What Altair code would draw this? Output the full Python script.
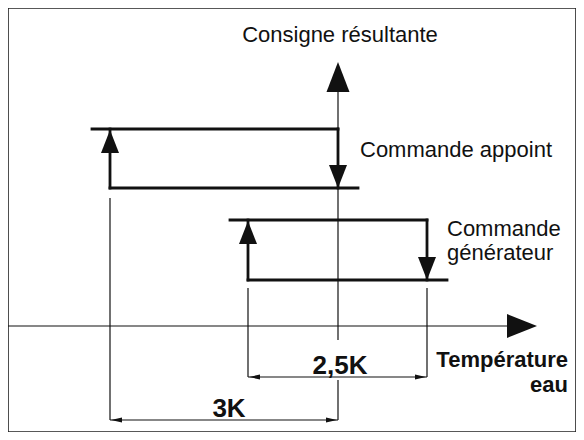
import altair as alt
import pandas as pd

# ---- diagram data (reference pixel units) ----
# thin lines: axes, extension lines, dimension lines
thin_x1 = [8, 338, 338, 110, 248, 427, 248, 110]
thin_x2 = [510, 338, 338, 110, 248, 427, 427, 338]
thin_y1 = [326, 90, 380, 198, 288, 288, 377, 420]
thin_y2 = [326, 340, 420, 420, 377, 377, 377, 420]

# thick hysteresis loops: appoint (4 segments) then générateur (4 segments)
loop_x1 = [92, 338, 110, 110, 230, 427, 248, 248]
loop_x2 = [338, 338, 358, 110, 427, 427, 447, 248]
loop_y1 = [129, 129, 188, 129, 220, 220, 280, 220]
loop_y2 = [129, 188, 188, 188, 220, 280, 280, 280]

# vertical arrowheads (centre x, tip y, base y, half width)
varrow_x = [338, 110, 338, 248, 427]
varrow_tip = [62, 130, 188, 221, 280]
varrow_base = [92, 153, 165, 244, 257]
varrow_half = [11.5, 9, 9, 9, 9]

# horizontal arrowheads (centre y, tip x, base x, half height)
harrow_y = [326, 377, 377, 420, 420]
harrow_tip = [537, 249, 426, 111, 337]
harrow_base = [507, 260, 415, 122, 326]
harrow_half = [12, 2.5, 2.5, 2.5, 2.5]

# labels
reg_left_text = ["Commande appoint", "Commande", "générateur"]
reg_left_x = [360, 447, 447]
reg_left_y = [157, 236, 260]

reg_center_text = ["Consigne résultante"]
reg_center_x = [340]
reg_center_y = [42]

bold_right_text = ["Température", "eau"]
bold_right_x = [568, 568]
bold_right_y = [367, 392]

bold_center_text = ["2,5K", "3K"]
bold_center_x = [340, 229]
bold_center_y = [374, 417]

FONT = "Liberation Sans"
INK = "#111111"

xs = alt.Scale(domain=[8, 576])
ys = alt.Scale(domain=[8, 432], reverse=True)

thin_df = pd.DataFrame({"x": thin_x1, "x2": thin_x2, "y": thin_y1, "y2": thin_y2})
loop_df = pd.DataFrame({"x": loop_x1, "x2": loop_x2, "y": loop_y1, "y2": loop_y2})

# arrowheads as custom symbol paths (path spans [-1, 1] -> sqrt(size) px)
rows = []
for cx, tip, base, hw in zip(varrow_x, varrow_tip, varrow_base, varrow_half):
    L = abs(base - tip)
    a = hw / (L / 2)
    if tip < base:  # pointing up
        path = f"M0,-1L{a:.4f},1L{-a:.4f},1Z"
    else:
        path = f"M0,1L{a:.4f},-1L{-a:.4f},-1Z"
    rows.append({"x": cx, "y": (tip + base) / 2, "shape": path, "size": L * L})
for cy, tip, base, hh in zip(harrow_y, harrow_tip, harrow_base, harrow_half):
    L = abs(base - tip)
    a = hh / (L / 2)
    if tip > base:  # pointing right
        path = f"M1,0L-1,{a:.4f}L-1,{-a:.4f}Z"
    else:
        path = f"M-1,0L1,{a:.4f}L1,{-a:.4f}Z"
    rows.append({"x": (tip + base) / 2, "y": cy, "shape": path, "size": L * L})
arrow_df = pd.DataFrame(rows)

thin = alt.Chart(thin_df).mark_rule(color=INK, strokeWidth=1.2).encode(
    x=alt.X("x:Q", scale=xs, axis=None), x2="x2:Q",
    y=alt.Y("y:Q", scale=ys, axis=None), y2="y2:Q",
)

loops = alt.Chart(loop_df).mark_rule(color=INK, strokeWidth=2.8, strokeCap="square").encode(
    x=alt.X("x:Q", scale=xs, axis=None), x2="x2:Q",
    y=alt.Y("y:Q", scale=ys, axis=None), y2="y2:Q",
)

arrows = alt.Chart(arrow_df).mark_point(filled=True, color=INK, opacity=1, strokeWidth=0).encode(
    x=alt.X("x:Q", scale=xs, axis=None),
    y=alt.Y("y:Q", scale=ys, axis=None),
    shape=alt.Shape("shape:N", scale=None, legend=None),
    size=alt.Size("size:Q", scale=None, legend=None),
)


def text_layer(texts, x, y, align, weight, size):
    df = pd.DataFrame({"t": texts, "x": x, "y": y})
    return alt.Chart(df).mark_text(
        align=align, baseline="alphabetic", font=FONT, fontSize=size,
        fontWeight=weight, color=INK,
    ).encode(
        x=alt.X("x:Q", scale=xs, axis=None),
        y=alt.Y("y:Q", scale=ys, axis=None),
        text="t:N",
    )


t1 = text_layer(reg_left_text, reg_left_x, reg_left_y, "left", "normal", 22)
t2 = text_layer(reg_center_text, reg_center_x, reg_center_y, "center", "normal", 22)
t3 = text_layer(bold_right_text, bold_right_x, bold_right_y, "right", "bold", 22)
t4 = text_layer(bold_center_text, bold_center_x, bold_center_y, "center", "bold", 26)

chart = alt.layer(thin, loops, arrows, t1, t2, t3, t4).properties(
    width=568, height=424, padding=0, autosize="none", background="white",
).configure_view(stroke="#222222", strokeWidth=1.6)

chart.save("out.html", embed_options={"renderer": "svg", "actions": False})
